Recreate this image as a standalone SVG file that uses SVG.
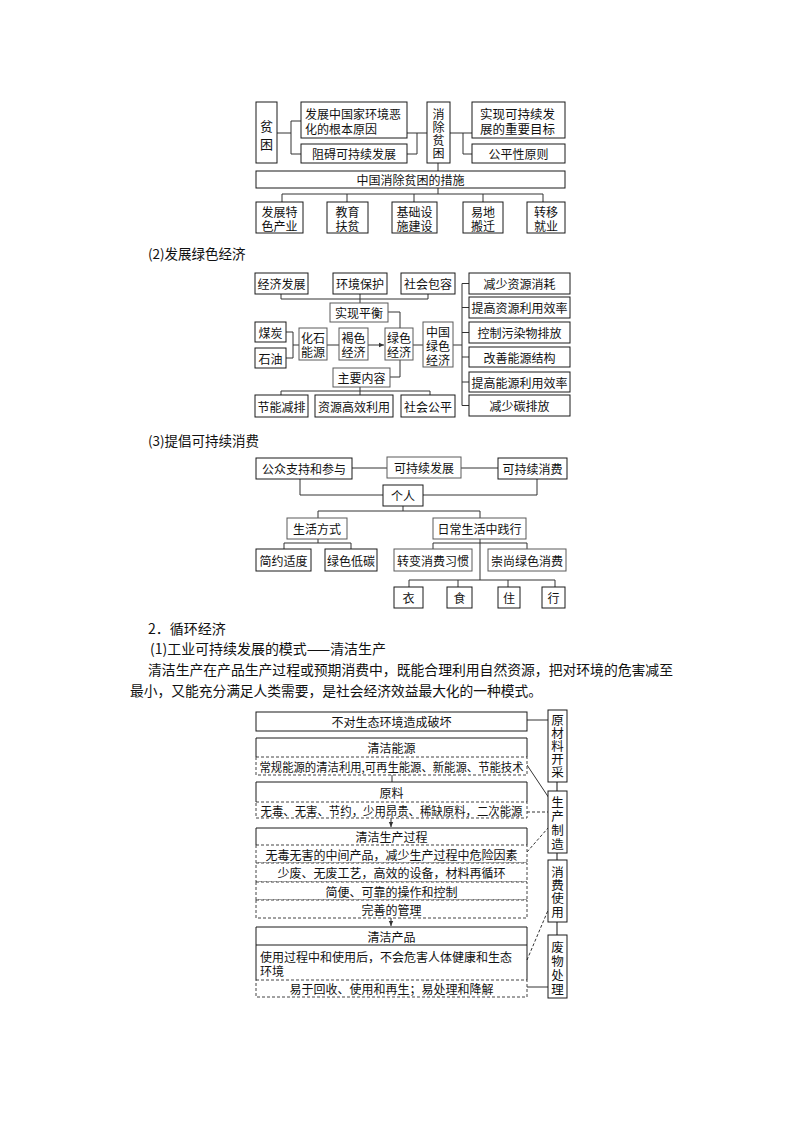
<svg xmlns="http://www.w3.org/2000/svg" width="794" height="1123" viewBox="0 0 794 1123">
<defs>
<style>
rect{fill:#fff;stroke:#1a1a1a;stroke-width:1}
rect.g{stroke:#5a5a5a}
rect.d{stroke:#444;stroke-dasharray:3 2}
.s{fill:none;stroke:#1a1a1a;stroke-width:1}
path.l{fill:none;stroke:#333;stroke-width:1}
path.dl{fill:none;stroke:#333;stroke-width:1;stroke-dasharray:3 2}
path.gl{fill:none;stroke:#888;stroke-width:2}
text{font-family:"Noto Sans CJK SC","Noto Sans CJK JP",sans-serif;font-size:12px;fill:#111;text-anchor:middle;dominant-baseline:central}
text.a{text-anchor:start}
text.h{font-size:13.5px;text-anchor:start}
text.p{font-size:14px;text-anchor:start}
text.v{font-size:12.5px;writing-mode:vertical-rl}
</style>
<marker id="arr" markerWidth="6" markerHeight="6" refX="5" refY="3" orient="auto" markerUnits="userSpaceOnUse">
<path d="M0,0.8 L5,3 L0,5.2 Z" fill="#333"/>
</marker>
</defs>
<rect x="0" y="0" width="794" height="1123" style="fill:#fff;stroke:none"/>

<!-- ===== Section 1 : poverty ===== -->
<g id="connectors-1">
<path class="l" d="M277 133 H291 M291 121 V154 M291 121 H301 M291 154 H301"/>
<path class="l" d="M407 133 H427 M407 154 H417 V133"/>
<path class="l" d="M450 133 H472 M463 133 V154 H472"/>
<path class="l" d="M438 163 V171"/>
<path class="l" d="M438 188 V194 M282 194 H543 M282 194 V202 M347 194 V202 M414 194 V202 M483 194 V202 M543 194 V202"/>
</g>
<g id="n-pinkun"><rect x="256" y="102" width="21" height="61"/><text class="v" x="266.5" y="137.5" style="font-size:13px;letter-spacing:5px">贫困</text></g>
<g id="n-genben"><rect x="301" y="102" width="106" height="36"/><text class="a"><tspan x="305" y="112.5">发展中国家环境恶</tspan><tspan x="305" y="127.5">化的根本原因</tspan></text></g>
<g id="n-zuai"><rect x="301" y="144" width="106" height="19"/><text x="354" y="153.5">阻碍可持续发展</text></g>
<g id="n-xiaochu"><rect x="427" y="102" width="23" height="61"/><text class="v" x="438.5" y="134" style="font-size:12px;letter-spacing:1px">消除贫困</text></g>
<g id="n-mubiao"><rect x="472" y="102" width="93" height="36"/><text class="a" style="font-size:12.5px"><tspan x="480" y="112.5">实现可持续发</tspan><tspan x="480" y="127.5">展的重要目标</tspan></text></g>
<g id="n-gongping"><rect x="472" y="144" width="93" height="19"/><text x="518.5" y="153.5">公平性原则</text></g>
<g id="n-cuoshi"><rect x="256" y="171" width="309" height="17"/><text x="410.5" y="179.5">中国消除贫困的措施</text></g>
<g id="n-tese"><rect x="256" y="202" width="47" height="31"/><text><tspan x="279.5" y="211">发展特</tspan><tspan x="279.5" y="225">色产业</tspan></text></g>
<g id="n-jiaoyu"><rect x="327" y="202" width="41" height="31"/><text><tspan x="347.5" y="211">教育</tspan><tspan x="347.5" y="225">扶贫</tspan></text></g>
<g id="n-jichu"><rect x="392" y="202" width="45" height="31"/><text><tspan x="414.5" y="211">基础设</tspan><tspan x="414.5" y="225">施建设</tspan></text></g>
<g id="n-yidi"><rect x="463" y="202" width="40" height="31"/><text><tspan x="483" y="211">易地</tspan><tspan x="483" y="225">搬迁</tspan></text></g>
<g id="n-zhuanyi"><rect x="527" y="202" width="38" height="31"/><text><tspan x="546" y="211">转移</tspan><tspan x="546" y="225">就业</tspan></text></g>

<!-- ===== Section 2 : green economy ===== -->
<text class="h" x="148" y="253">(2)发展绿色经济</text>
<g id="connectors-2">
<path class="l" d="M281 294 V299 H428 V294 M360 294 V303"/>
<path class="l" d="M388 312 H400 V328"/>
<path class="l" d="M286 332 H293 V358 H286 M293 345 H299"/>
<path class="l" d="M327 345 H339"/>
<path class="l" d="M368 345 H384" marker-end="url(#arr)"/>
<path class="l" d="M400 360 V377 H390"/>
<path class="l" d="M360 387 V395 M281 395 V391 H430 V395"/>
<path class="l" d="M413 345 H423"/>
<path class="l" d="M453 345 H462 M462 283.5 V405.5 M462 283.5 H469 M462 307.5 H469 M462 332.5 H469 M462 357 H469 M462 382 H469 M462 405.5 H469"/>
</g>
<g id="n-jjfz"><rect x="255" y="273" width="53" height="21"/><text x="281.5" y="283.5">经济发展</text></g>
<g id="n-hjbh"><rect x="333" y="273" width="54" height="21"/><text x="360" y="283.5">环境保护</text></g>
<g id="n-shbr"><rect x="401" y="273" width="54" height="21"/><text x="428" y="283.5">社会包容</text></g>
<g id="n-sxph"><rect class="g" x="330" y="303" width="58" height="19"/><text x="359" y="312.5">实现平衡</text></g>
<g id="n-meitan"><rect x="255" y="322" width="31" height="20"/><text x="270.5" y="332">煤炭</text></g>
<g id="n-shiyou"><rect x="255" y="348" width="31" height="20"/><text x="270.5" y="358">石油</text></g>
<g id="n-huashi"><rect class="g" x="299" y="328" width="28" height="32"/><text><tspan x="313" y="337">化石</tspan><tspan x="313" y="351">能源</tspan></text></g>
<g id="n-hese"><rect class="g" x="339" y="328" width="29" height="32"/><text><tspan x="353.5" y="337">褐色</tspan><tspan x="353.5" y="351">经济</tspan></text></g>
<g id="n-lvse"><rect class="g" x="385" y="328" width="28" height="32"/><text><tspan x="399" y="337">绿色</tspan><tspan x="399" y="351">经济</tspan></text></g>
<g id="n-zynr"><rect class="g" x="333" y="368" width="57" height="19"/><text x="361.5" y="377.5">主要内容</text></g>
<g id="n-jnjp"><rect x="255" y="395" width="53" height="22"/><text x="281.5" y="406">节能减排</text></g>
<g id="n-zygx"><rect x="315" y="395" width="78" height="22"/><text x="354" y="406">资源高效利用</text></g>
<g id="n-shgp"><rect x="401" y="395" width="54" height="22"/><text x="428" y="406">社会公平</text></g>
<g id="n-zglsjj"><rect class="g" x="423" y="322" width="30" height="45"/><text><tspan x="438" y="331">中国</tspan><tspan x="438" y="345">绿色</tspan><tspan x="438" y="359">经济</tspan></text></g>
<g id="n-r1"><rect x="469" y="273" width="101" height="21"/><text x="519.5" y="283.5">减少资源消耗</text></g>
<g id="n-r2"><rect x="469" y="297" width="101" height="21"/><text x="519.5" y="307.5">提高资源利用效率</text></g>
<g id="n-r3"><rect x="469" y="322" width="101" height="21"/><text x="519.5" y="332.5">控制污染物排放</text></g>
<g id="n-r4"><rect x="469" y="347" width="101" height="20"/><text x="519.5" y="357">改善能源结构</text></g>
<g id="n-r5"><rect x="469" y="372" width="101" height="20"/><text x="519.5" y="382">提高能源利用效率</text></g>
<g id="n-r6"><rect x="469" y="395" width="101" height="21"/><text x="519.5" y="405.5">减少碳排放</text></g>

<!-- ===== Section 3 : sustainable consumption ===== -->
<text class="h" x="148" y="440">(3)提倡可持续消费</text>
<g id="connectors-3">
<path class="l" d="M352 468 H387 M461 468 H498"/>
<path class="l" d="M300 479 V495 H383 M537 479 V495 H423"/>
<path class="l" d="M403 506 V511 M318 518 V511 H480 V518"/>
<path class="l" d="M318 539 V543 M284 549 V543 H351 V549"/>
<path class="l" d="M480 539 V580 M433 549 V543 H527 V549"/>
<path class="l" d="M409 587 V580 H555 V587 M458 580 V587 M508 580 V587"/>
</g>
<g id="n-gongzhong"><rect x="256" y="458" width="96" height="21"/><text x="304" y="468.5">公众支持和参与</text></g>
<g id="n-kcxfz"><rect class="g" x="387" y="457" width="74" height="21"/><text x="424" y="467.5">可持续发展</text></g>
<g id="n-kcxxf"><rect x="498" y="458" width="69" height="21"/><text x="532.5" y="468.5">可持续消费</text></g>
<g id="n-geren"><rect x="383" y="485" width="40" height="21"/><text x="403" y="495.5">个人</text></g>
<g id="n-shfs"><rect class="g" x="287" y="518" width="60" height="21"/><text x="317" y="528.5">生活方式</text></g>
<g id="n-rcsh"><rect class="g" x="433" y="518" width="93" height="21"/><text x="479.5" y="528.5">日常生活中践行</text></g>
<g id="n-jyshd"><rect x="256" y="549" width="55" height="22"/><text x="283.5" y="560">简约适度</text></g>
<g id="n-lsdt"><rect x="325" y="549" width="52" height="22"/><text x="351" y="560">绿色低碳</text></g>
<g id="n-zbxf"><rect class="g" x="394" y="549" width="78" height="22"/><text x="433" y="560">转变消费习惯</text></g>
<g id="n-csls"><rect class="g" x="488" y="549" width="78" height="22"/><text x="527" y="560">崇尚绿色消费</text></g>
<g id="n-yi"><rect x="394" y="587" width="29" height="21"/><text x="408.5" y="597.5">衣</text></g>
<g id="n-shi"><rect x="447" y="587" width="25" height="21"/><text x="459.5" y="597.5">食</text></g>
<g id="n-zhu"><rect x="498" y="587" width="22" height="21"/><text x="509" y="597.5">住</text></g>
<g id="n-xing"><rect x="542" y="587" width="23" height="21"/><text x="553.5" y="597.5">行</text></g>

<!-- ===== Body text ===== -->
<text class="p" x="148" y="628">2．循环经济</text>
<text class="p" x="150" y="648" textLength="236" lengthAdjust="spacingAndGlyphs">(1)工业可持续发展的模式——清洁生产</text>
<text class="p" x="148" y="669" textLength="525" lengthAdjust="spacingAndGlyphs">清洁生产在产品生产过程或预期消费中，既能合理利用自然资源，把对环境的危害减至</text>
<text class="p" x="130" y="690" textLength="412" lengthAdjust="spacingAndGlyphs">最小，又能充分满足人类需要，是社会经济效益最大化的一种模式。</text>

<!-- ===== Section 4 : clean production ===== -->
<g id="connectors-4">
<path class="gl" d="M557 782 V791 M557 853 V860 M557 922 V935"/>
<path class="l" d="M392 775 V782"/>
<path class="l" d="M391 818 V827" marker-end="url(#arr)"/>
<path class="l" d="M391 918 V926" marker-end="url(#arr)"/>
<path class="l" d="M527 720 H548"/>
<path class="l" d="M527 765 L549 798"/>
<path class="dl" d="M527 812 H548"/>
<path class="dl" d="M527 852 L548 828"/>
<path class="dl" d="M527 960 L549 908"/>
<path class="l" d="M527 987 H548"/>
</g>
<g id="n-nodamage"><rect x="256" y="712" width="271" height="19"/><text x="391.5" y="721.5">不对生态环境造成破坏</text></g>
<g id="n-energy">
<rect class="d" x="256" y="757" width="271" height="18"/>
<path class="s" d="M256 757 V738 H527 V757"/>
<text x="391.5" y="747.5">清洁能源</text>
<text x="391.5" y="766" textLength="264" lengthAdjust="spacingAndGlyphs">常规能源的清洁利用,可再生能源、新能源、节能技术</text>
</g>
<g id="n-material">
<rect class="d" x="256" y="802" width="271" height="16"/>
<path class="s" d="M256 802 V782 H527 V802"/>
<text x="391.5" y="792">原料</text>
<text x="391.5" y="810" textLength="262" lengthAdjust="spacingAndGlyphs">无毒、无害、节约，少用昂贵、稀缺原料，二次能源</text>
</g>
<g id="n-process">
<rect class="d" x="256" y="845" width="271" height="18"/>
<rect class="d" x="256" y="863" width="271" height="19"/>
<rect class="d" x="256" y="882" width="271" height="18"/>
<rect class="d" x="256" y="900" width="271" height="18"/>
<path class="s" d="M256 845 V828 H527 V845"/>
<text x="391.5" y="836.5">清洁生产过程</text>
<text x="391.5" y="854">无毒无害的中间产品，减少生产过程中危险因素</text>
<text x="391.5" y="872.5">少废、无废工艺，高效的设备，材料再循环</text>
<text x="391.5" y="891">简便、可靠的操作和控制</text>
<text x="391.5" y="909">完善的管理</text>
</g>
<g id="n-product">
<rect class="d" x="256" y="980" width="271" height="17"/>
<path class="s" d="M256 980 V927 H527 V980 M256 945 H527"/>
<text x="391.5" y="936">清洁产品</text>
<text class="a"><tspan x="260" y="956">使用过程中和使用后，不会危害人体健康和生态</tspan><tspan x="260" y="970">环境</tspan></text>
<text x="391.5" y="988.5">易于回收、使用和再生；易处理和降解</text>
</g>
<g id="n-kaicai"><rect x="548" y="710" width="19" height="72"/><text class="v" x="557.5" y="746" style="letter-spacing:0.5px">原材料开采</text></g>
<g id="n-zhizao"><rect x="548" y="791" width="19" height="62"/><text class="v" x="557.5" y="823.5" style="letter-spacing:1.5px">生产制造</text></g>
<g id="n-shiyong"><rect x="548" y="860" width="19" height="62"/><text class="v" x="557.5" y="892.5" style="letter-spacing:0.8px">消费使用</text></g>
<g id="n-feiwu"><rect x="548" y="935" width="19" height="63"/><text class="v" x="557.5" y="968.5" style="letter-spacing:1.5px">废物处理</text></g>
</svg>
